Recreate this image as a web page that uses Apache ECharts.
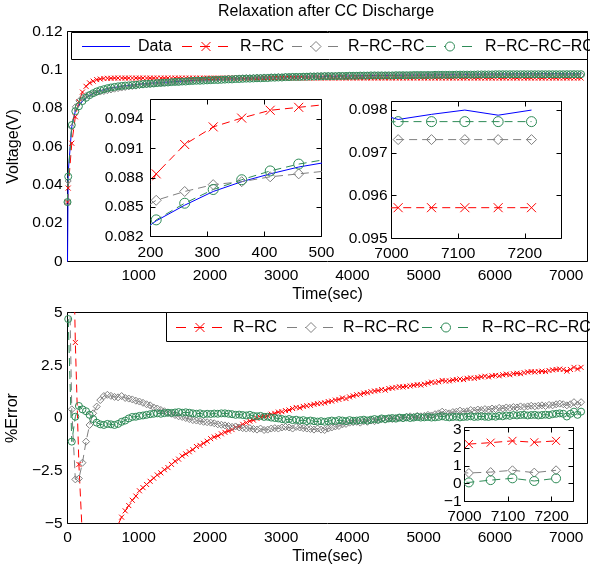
<!DOCTYPE html>
<html><head><meta charset="utf-8">
<script src="https://cdn.jsdelivr.net/npm/echarts@6/dist/echarts.min.js"></script>
<style>html,body{margin:0;padding:0;background:#fff}#c{width:590px;height:569px}</style>
</head><body><div id="c"></div>
<script>
// ---- data: sample times (s) ----
const timeErr = [
10,60,110,160,210,260,310,360,410,460,
510,560,610,660,710,760,810,860,910,960,
1010,1060,1110,1160,1210,1260,1310,1360,1410,1460,
1510,1560,1610,1660,1710,1760,1810,1860,1910,1960,
2010,2060,2110,2160,2210,2260,2310,2360,2410,2460,
2510,2560,2610,2660,2710,2760,2810,2860,2910,2960,
3010,3060,3110,3160,3210,3260,3310,3360,3410,3460,
3510,3560,3610,3660,3710,3760,3810,3860,3910,3960,
4010,4060,4110,4160,4210,4260,4310,4360,4410,4460,
4510,4560,4610,4660,4710,4760,4810,4860,4910,4960,
5010,5060,5110,5160,5210,5260,5310,5360,5410,5460,
5510,5560,5610,5660,5710,5760,5810,5860,5910,5960,
6010,6060,6110,6160,6210,6260,6310,6360,6410,6460,
6510,6560,6610,6660,6710,6760,6810,6860,6910,6960,
7010,7060,7110,7160,7210];
const timeVolt = [0].concat(timeErr);

// ---- voltage (V), first value at t = 0 ----
const voltData = [0,
0.0465,0.0704,0.0784,0.0815,0.0836,0.0852,0.0866,0.0876,0.0884,0.0891,
0.0896,0.0901,0.0905,0.0908,0.0911,0.0914,0.0917,0.0919,0.0921,0.0923,
0.0925,0.0927,0.0928,0.0930,0.0931,0.0933,0.0934,0.0935,0.0936,0.0938,
0.0939,0.0940,0.0941,0.0942,0.0943,0.0944,0.0945,0.0945,0.0946,0.0947,
0.0948,0.0949,0.0949,0.0950,0.0951,0.0952,0.0952,0.0953,0.0954,0.0954,
0.0955,0.0955,0.0956,0.0957,0.0957,0.0958,0.0958,0.0959,0.0959,0.0960,
0.0960,0.0961,0.0961,0.0962,0.0962,0.0962,0.0963,0.0963,0.0964,0.0964,
0.0964,0.0965,0.0965,0.0966,0.0966,0.0966,0.0967,0.0967,0.0967,0.0968,
0.0968,0.0968,0.0969,0.0969,0.0969,0.0970,0.0970,0.0970,0.0970,0.0971,
0.0971,0.0971,0.0971,0.0972,0.0972,0.0972,0.0972,0.0973,0.0973,0.0973,
0.0973,0.0974,0.0974,0.0974,0.0974,0.0975,0.0975,0.0975,0.0975,0.0976,
0.0976,0.0976,0.0976,0.0976,0.0977,0.0977,0.0977,0.0977,0.0977,0.0978,
0.0978,0.0978,0.0978,0.0978,0.0978,0.0979,0.0979,0.0979,0.0979,0.0979,
0.0979,0.0979,0.0980,0.0980,0.0980,0.0980,0.0980,0.0980,0.0980,0.0980,
0.09778,0.09790,0.09800,0.09788,0.09800];
const voltRRC = [0.0310,
0.0383,0.0617,0.0755,0.0833,0.0884,0.0914,0.0932,0.0941,0.0949,0.0952,
0.0955,0.0956,0.0956,0.0957,0.0957,0.0957,0.0957,0.0957,0.0957,0.0957,
0.0957,0.0957,0.0957,0.0957,0.0957,0.0957,0.0957,0.0957,0.0957,0.0957,
0.0957,0.0957,0.0957,0.0957,0.0957,0.0957,0.0957,0.0957,0.0957,0.0957,
0.0957,0.0957,0.0957,0.0957,0.0957,0.0957,0.0957,0.0957,0.0957,0.0957,
0.0957,0.0957,0.0957,0.0957,0.0957,0.0957,0.0957,0.0957,0.0957,0.0957,
0.0957,0.0957,0.0957,0.0957,0.0957,0.0957,0.0957,0.0957,0.0957,0.0957,
0.0957,0.0957,0.0957,0.0957,0.0957,0.0957,0.0957,0.0957,0.0957,0.0957,
0.0957,0.0957,0.0957,0.0957,0.0957,0.0957,0.0957,0.0957,0.0957,0.0957,
0.0957,0.0957,0.0957,0.0957,0.0957,0.0957,0.0957,0.0957,0.0957,0.0957,
0.0957,0.0957,0.0957,0.0957,0.0957,0.0957,0.0957,0.0957,0.0957,0.0957,
0.0957,0.0957,0.0957,0.0957,0.0957,0.0957,0.0957,0.0957,0.0957,0.0957,
0.0957,0.0957,0.0957,0.0957,0.0957,0.0957,0.0957,0.0957,0.0957,0.0957,
0.0957,0.0957,0.0957,0.0957,0.0957,0.0957,0.0957,0.0957,0.0957,0.0957,
0.09572,0.09572,0.09572,0.09572,0.09572];
const voltRRCRC = [0.0310,
0.0420,0.0701,0.0807,0.0838,0.0857,0.0866,0.0873,0.0876,0.0881,0.0884,
0.0887,0.0891,0.0895,0.0899,0.0902,0.0905,0.0908,0.0911,0.0913,0.0915,
0.0918,0.0920,0.0922,0.0924,0.0926,0.0929,0.0930,0.0932,0.0934,0.0936,
0.0938,0.0939,0.0940,0.0942,0.0943,0.0945,0.0946,0.0946,0.0948,0.0949,
0.0950,0.0951,0.0952,0.0953,0.0954,0.0956,0.0956,0.0957,0.0958,0.0959,
0.0960,0.0960,0.0961,0.0962,0.0962,0.0963,0.0963,0.0964,0.0964,0.0965,
0.0964,0.0965,0.0965,0.0966,0.0966,0.0966,0.0967,0.0968,0.0969,0.0969,
0.0969,0.0970,0.0970,0.0971,0.0970,0.0970,0.0971,0.0970,0.0970,0.0970,
0.0970,0.0970,0.0971,0.0970,0.0971,0.0971,0.0971,0.0971,0.0971,0.0972,
0.0971,0.0971,0.0971,0.0972,0.0972,0.0972,0.0972,0.0972,0.0972,0.0972,
0.0972,0.0972,0.0973,0.0972,0.0972,0.0972,0.0973,0.0973,0.0973,0.0973,
0.0973,0.0973,0.0973,0.0973,0.0973,0.0973,0.0973,0.0973,0.0973,0.0973,
0.0973,0.0973,0.0973,0.0973,0.0973,0.0973,0.0973,0.0973,0.0973,0.0973,
0.0973,0.0973,0.0973,0.0973,0.0973,0.0973,0.0973,0.0973,0.0973,0.0973,
0.09731,0.09731,0.09731,0.09731,0.09731];
const voltRRCRCRC = [0.0310,
0.0443,0.0712,0.0784,0.0810,0.0837,0.0854,0.0868,0.0878,0.0887,0.0894,
0.0899,0.0904,0.0908,0.0911,0.0914,0.0916,0.0918,0.0919,0.0921,0.0922,
0.0924,0.0926,0.0927,0.0928,0.0929,0.0931,0.0932,0.0933,0.0934,0.0936,
0.0937,0.0937,0.0939,0.0939,0.0941,0.0942,0.0943,0.0943,0.0944,0.0945,
0.0946,0.0947,0.0947,0.0948,0.0949,0.0950,0.0950,0.0952,0.0952,0.0953,
0.0954,0.0954,0.0955,0.0956,0.0956,0.0957,0.0957,0.0959,0.0959,0.0960,
0.0960,0.0962,0.0962,0.0963,0.0963,0.0963,0.0964,0.0964,0.0965,0.0965,
0.0966,0.0966,0.0967,0.0967,0.0967,0.0967,0.0968,0.0968,0.0968,0.0969,
0.0969,0.0969,0.0970,0.0970,0.0970,0.0971,0.0971,0.0971,0.0971,0.0971,
0.0971,0.0971,0.0972,0.0972,0.0972,0.0972,0.0972,0.0973,0.0973,0.0973,
0.0973,0.0973,0.0973,0.0974,0.0974,0.0974,0.0974,0.0974,0.0974,0.0975,
0.0975,0.0975,0.0975,0.0975,0.0975,0.0976,0.0976,0.0976,0.0976,0.0976,
0.0977,0.0977,0.0977,0.0977,0.0977,0.0977,0.0977,0.0977,0.0977,0.0977,
0.0977,0.0977,0.0977,0.0977,0.0977,0.0977,0.0977,0.0977,0.0977,0.0977,
0.09773,0.09773,0.09773,0.09773,0.09773];

// ---- % error ----
const errRRC = [
17.6,12.4,3.58,-2.2,-5.7,-7.3,-7.6,-7.4,-7.4,-6.8,
-6.5,-6.0,-5.6,-5.4,-5.05,-4.7,-4.4,-4.15,-3.9,-3.7,
-3.45,-3.3,-3.15,-3.0,-2.85,-2.7,-2.6,-2.45,-2.35,-2.2,
-2.05,-1.95,-1.8,-1.7,-1.6,-1.5,-1.35,-1.3,-1.2,-1.1,
-0.98,-0.9,-0.85,-0.75,-0.68,-0.62,-0.55,-0.45,-0.4,-0.3,
-0.22,-0.15,-0.1,-0.02,0.02,0.08,0.12,0.18,0.22,0.28,
0.3,0.35,0.38,0.45,0.5,0.48,0.55,0.58,0.6,0.65,
0.68,0.7,0.72,0.78,0.8,0.85,0.88,0.95,0.92,1.0,
1.05,1.1,1.12,1.18,1.2,1.25,1.28,1.3,1.35,1.32,
1.4,1.42,1.45,1.48,1.47,1.5,1.52,1.55,1.58,1.56,
1.6,1.65,1.7,1.68,1.72,1.78,1.75,1.76,1.8,1.82,
1.85,1.82,1.88,1.9,1.88,1.92,1.95,1.98,1.95,2.0,
2.02,2.0,2.05,2.08,2.05,2.1,2.12,2.1,2.15,2.18,
2.2,2.18,2.2,2.22,2.2,2.25,2.28,2.3,2.32,2.3,
2.22,2.3,2.4,2.32,2.4];
const errRRCRC = [
9.7,0.41,-2.91,-2.87,-2.12,-1.12,-0.33,0.22,0.54,0.85,
1.04,1.1,1.05,1.0,0.98,1.04,0.95,0.92,0.88,0.82,
0.78,0.72,0.65,0.6,0.5,0.45,0.38,0.32,0.25,0.2,
0.14,0.08,0.05,0.0,-0.05,-0.1,-0.12,-0.15,-0.18,-0.2,
-0.22,-0.25,-0.3,-0.32,-0.35,-0.38,-0.42,-0.4,-0.45,-0.48,
-0.5,-0.48,-0.52,-0.55,-0.5,-0.57,-0.55,-0.5,-0.48,-0.5,
-0.45,-0.42,-0.45,-0.5,-0.42,-0.45,-0.48,-0.5,-0.52,-0.55,
-0.5,-0.55,-0.57,-0.5,-0.45,-0.4,-0.38,-0.3,-0.28,-0.22,
-0.2,-0.18,-0.22,-0.15,-0.18,-0.12,-0.15,-0.1,-0.05,-0.08,
-0.02,-0.05,0.0,0.02,-0.02,0.05,0.08,0.05,0.1,0.08,
0.1,0.15,0.12,0.18,0.22,0.3,0.25,0.22,0.28,0.3,
0.35,0.3,0.32,0.38,0.35,0.4,0.38,0.42,0.4,0.45,
0.42,0.48,0.45,0.5,0.48,0.52,0.5,0.55,0.52,0.55,
0.58,0.55,0.58,0.6,0.57,0.62,0.6,0.65,0.68,0.65,
0.6,0.65,0.75,0.62,0.75];
const errRRCRCRC = [
4.69,-1.12,0.06,0.57,0.41,0.32,0.15,-0.05,-0.22,-0.3,
-0.33,-0.28,-0.3,-0.33,-0.28,-0.18,-0.12,-0.02,0.05,0.06,
0.1,0.12,0.15,0.18,0.2,0.22,0.2,0.23,0.25,0.24,
0.26,0.28,0.25,0.27,0.25,0.22,0.2,0.22,0.18,0.2,
0.19,0.21,0.2,0.22,0.22,0.2,0.18,0.15,0.16,0.14,
0.12,0.15,0.1,0.08,0.1,0.05,0.06,0.02,0.0,-0.02,
-0.05,-0.08,-0.05,-0.1,-0.08,-0.12,-0.1,-0.15,-0.12,-0.15,
-0.17,-0.15,-0.18,-0.15,-0.12,-0.15,-0.1,-0.12,-0.15,-0.1,
-0.13,-0.12,-0.1,-0.08,-0.12,-0.08,-0.05,-0.08,-0.02,-0.05,
-0.02,0.0,-0.03,0.02,0.0,0.03,0.0,0.02,0.05,0.02,
0.03,0.05,0.02,0.03,0.05,0.08,0.05,0.03,0.05,0.06,
0.03,0.05,0.06,0.08,0.05,0.06,0.08,0.06,0.05,0.08,
0.06,0.1,0.08,0.12,0.1,0.14,0.12,0.14,0.15,0.12,
0.14,0.15,0.12,0.14,0.16,0.14,0.18,0.2,0.22,0.2,
0.07,0.2,0.3,0.15,0.3];

const seriesNames = ['Data', 'R\u2212RC', 'R\u2212RC\u2212RC', 'R\u2212RC\u2212RC\u2212RC'];
const titleText = 'Relaxation after CC Discharge';

// ---- styling ----
const FONT = '"Liberation Sans", Arial, Helvetica, sans-serif';
const BLUE = '#0000ff', RED = '#ff0000', GRAY = '#808080', GREEN = '#2e8b57';
const XPATH = 'path://M0,0L10,10M10,0L0,10';
const DASH = [8, 5];
const minus = v => String(v).replace('-', '\u2212');

function pairs(t, v) { return t.map((x, i) => [x, v[i]]); }

function axisPair(kind, gi, min, max, interval, lab, extra, z) {
  const base = {type: 'value', gridIndex: gi, min, max, interval, z: z || 0,
    axisLine: {show: false, onZero: false},
    axisTick: {show: true, inside: true, length: 5, lineStyle: {color: '#000', width: 1}},
    splitLine: {show: false}};
  const main = Object.assign({}, base, {position: kind === 'x' ? 'bottom' : 'left',
    axisLabel: Object.assign({show: true, color: '#000', fontFamily: FONT, fontSize: 15.5, formatter: minus}, lab)}, extra || {});
  const mirror = Object.assign({}, base, {position: kind === 'x' ? 'top' : 'right', axisLabel: {show: false}});
  return [main, mirror];
}

const nameStyle = {fontSize: 16, color: '#000', fontFamily: FONT};
const xAxes = [].concat(
  axisPair('x', 0, 0, 7300, 1000, {margin: 6, showMinLabel: false, showMaxLabel: false},
    {name: 'Time(sec)', nameLocation: 'middle', nameGap: 25, nameTextStyle: nameStyle}),
  axisPair('x', 1, 0, 7300, 1000, {margin: 6, showMinLabel: true, showMaxLabel: false},
    {name: 'Time(sec)', nameLocation: 'middle', nameGap: 25, nameTextStyle: nameStyle}),
  axisPair('x', 2, 200, 500, 100, {margin: 8}, null, 12),
  axisPair('x', 3, 7000, 7255, 100, {margin: 7, showMaxLabel: false}, null, 12),
  axisPair('x', 4, 7000, 7250, 100, {margin: 7, showMaxLabel: false}, null, 12)
);
const yAxes = [].concat(
  axisPair('y', 0, 0, 0.12, 0.02, {margin: 5},
    {name: 'Voltage(V)', nameLocation: 'middle', nameGap: 41, nameTextStyle: nameStyle}),
  axisPair('y', 1, -5, 5, 2.5, {margin: 5},
    {name: '%Error', nameLocation: 'middle', nameGap: 42, nameTextStyle: nameStyle}),
  axisPair('y', 2, 0.082, 0.096, 0.003, {margin: 7, showMaxLabel: false}, null, 12),
  axisPair('y', 3, 0.095, 0.0982, 0.001, {margin: 4, showMaxLabel: false}, null, 12),
  axisPair('y', 4, -1, 3.15, 1, {margin: 3, showMaxLabel: false}, null, 12)
);

function grid(left, top, width, height, z) {
  return {left, top, width, height, show: true, borderColor: '#000', borderWidth: 1,
    backgroundColor: '#fff', z: z, outerBoundsMode: 'none', containLabel: false};
}

const styles = {
  data: {color: BLUE, symbol: 'none', dash: 'solid'},
  rrc: {color: RED, symbol: XPATH, dash: DASH},
  rrcrc: {color: GRAY, symbol: 'diamond', dash: DASH},
  rrcrcrc: {color: GREEN, symbol: 'circle', dash: DASH}
};
function mk(name, st, xi, yi, data, size, z) {
  return {type: 'line', name, xAxisIndex: xi, yAxisIndex: yi, data, z: z || 2,
    silent: true, animation: false, clip: true,
    symbol: st.symbol, showSymbol: st.symbol !== 'none', symbolSize: size,
    itemStyle: {color: 'rgba(0,0,0,0)', borderColor: st.color, borderWidth: 1},
    lineStyle: {color: st.color, width: 1, type: st.dash},
    emphasis: {disabled: true}};
}

const vData = pairs(timeVolt, voltData), vR = pairs(timeVolt, voltRRC),
      vRR = pairs(timeVolt, voltRRCRC), vRRR = pairs(timeVolt, voltRRCRCRC);
const eR = pairs(timeErr, errRRC), eRR = pairs(timeErr, errRRCRC), eRRR = pairs(timeErr, errRRCRCRC);

const series = [
  mk(seriesNames[0], styles.data, 0, 0, vData, 0),
  mk(seriesNames[1], styles.rrc, 0, 0, vR, 5),
  mk(seriesNames[2], styles.rrcrc, 0, 0, vRR, 6),
  mk(seriesNames[3], styles.rrcrcrc, 0, 0, vRRR, 7),
  mk(seriesNames[1], styles.rrc, 2, 2, eR, 5),
  mk(seriesNames[2], styles.rrcrc, 2, 2, eRR, 7),
  mk(seriesNames[3], styles.rrcrcrc, 2, 2, eRRR, 7),
  mk(seriesNames[0], styles.data, 4, 4, vData, 0, 11),
  mk(seriesNames[1], styles.rrc, 4, 4, vR, 9, 11),
  mk(seriesNames[2], styles.rrcrc, 4, 4, vRR, 10, 11),
  mk(seriesNames[3], styles.rrcrcrc, 4, 4, vRRR, 10, 11),
  mk(seriesNames[0], styles.data, 6, 6, vData, 0, 11),
  mk(seriesNames[1], styles.rrc, 6, 6, vR, 9, 11),
  mk(seriesNames[2], styles.rrcrc, 6, 6, vRR, 10, 11),
  mk(seriesNames[3], styles.rrcrcrc, 6, 6, vRRR, 10, 11),
  mk(seriesNames[1], styles.rrc, 8, 8, eR, 8, 11),
  mk(seriesNames[2], styles.rrcrc, 8, 8, eRR, 9, 11),
  mk(seriesNames[3], styles.rrcrcrc, 8, 8, eRRR, 9, 11)
];

// ---- legends (drawn as graphics) ----
function legendItem(cx, cy, st, text, tx) {
  const z = 21, els = [];
  els.push({type: 'line', z, silent: true, shape: {x1: cx - 24, y1: cy, x2: cx + 24, y2: cy},
    style: {stroke: st.color, lineWidth: 1, lineDash: st.dash === 'solid' ? null : [10, 8]}});
  const h = 4.5;
  if (st.symbol === XPATH) {
    els.push({type: 'line', z, silent: true, shape: {x1: cx - h, y1: cy - h, x2: cx + h, y2: cy + h}, style: {stroke: st.color, lineWidth: 1}});
    els.push({type: 'line', z, silent: true, shape: {x1: cx + h, y1: cy - h, x2: cx - h, y2: cy + h}, style: {stroke: st.color, lineWidth: 1}});
  } else if (st.symbol === 'diamond') {
    els.push({type: 'polygon', z, silent: true, shape: {points: [[cx, cy - 5], [cx + 5, cy], [cx, cy + 5], [cx - 5, cy]]}, style: {fill: '#fff', stroke: st.color, lineWidth: 1}});
  } else if (st.symbol === 'circle') {
    els.push({type: 'circle', z, silent: true, shape: {cx, cy, r: 4.5}, style: {fill: '#fff', stroke: st.color, lineWidth: 1}});
  }
  els.push({type: 'text', z, silent: true, style: {text, x: tx, y: cy, fill: '#000', fontSize: 16, fontFamily: FONT, verticalAlign: 'middle', align: 'left'}});
  return els;
}
const graphic = [].concat(
  [{type: 'rect', z: 20, silent: true, shape: {x: 71.5, y: 32.5, width: 516, height: 27}, style: {fill: '#fff', stroke: '#000', lineWidth: 1}}],
  legendItem(106, 46.5, styles.data, seriesNames[0], 138),
  legendItem(206, 46.5, styles.rrc, seriesNames[1], 240),
  legendItem(316, 46.5, styles.rrcrc, seriesNames[2], 348),
  legendItem(450, 46.5, styles.rrcrcrc, seriesNames[3], 485),
  [{type: 'rect', z: 20, silent: true, shape: {x: 166.5, y: 312.5, width: 421, height: 29}, style: {fill: '#fff', stroke: '#000', lineWidth: 1}}],
  legendItem(200, 327.5, styles.rrc, seriesNames[1], 233),
  legendItem(311, 327.5, styles.rrcrc, seriesNames[2], 343),
  legendItem(446, 327.5, styles.rrcrcrc, seriesNames[3], 482)
);

const chart = echarts.init(document.getElementById('c'), null, {renderer: 'canvas'});
chart.setOption({
  animation: false,
  backgroundColor: '#fff',
  textStyle: {fontFamily: FONT},
  title: {text: titleText, left: 218, top: 4, padding: 0,
    textStyle: {fontSize: 16, fontWeight: 'normal', color: '#000', fontFamily: FONT}},
  grid: [
    grid(67.5, 31.5, 520, 230, 1),
    grid(67.5, 312.5, 520, 211, 1),
    grid(150.5, 99.5, 171, 137, 10),
    grid(391.5, 101.5, 170, 137, 10),
    grid(464.5, 427.5, 109, 74, 10)
  ],
  xAxis: xAxes,
  yAxis: yAxes,
  series,
  graphic
});
</script></body></html>
